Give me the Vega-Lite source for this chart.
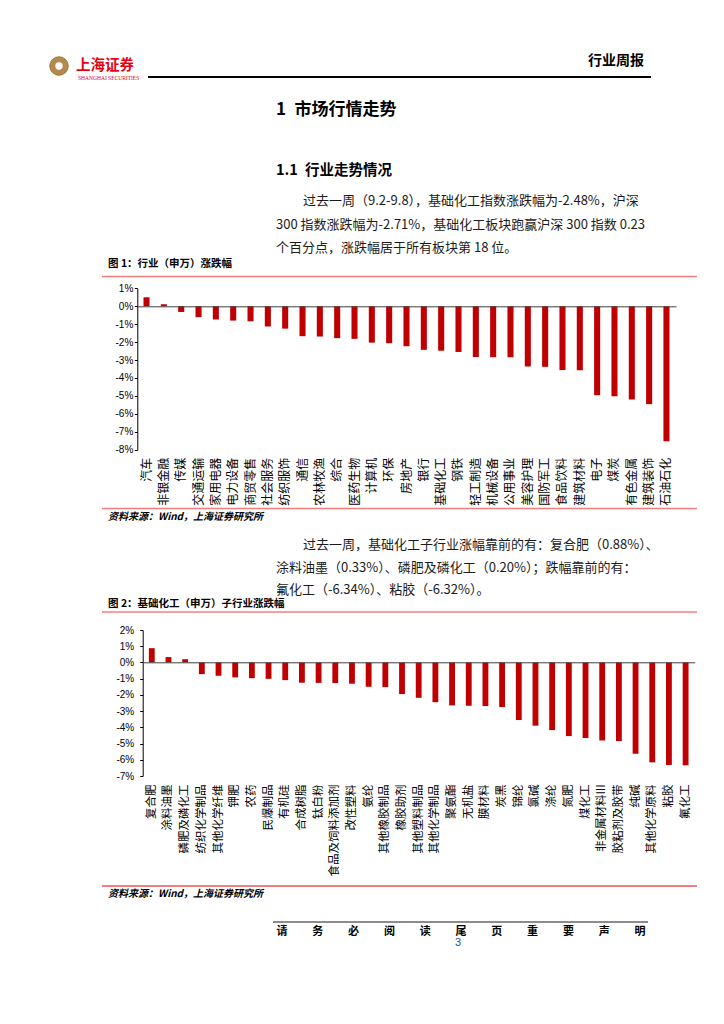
{
  "$schema": "https://vega.github.io/schema/vega-lite/v6.json",
  "width": 724,
  "height": 1024,
  "autosize": {"type": "none"},
  "padding": 0,
  "background": "white",
  "config": {"view": {"stroke": null}, "font": "Noto Sans CJK SC"},
  "data": {"values": [{}]},
  "layer": [
    {"mark": {"type": "point", "shape": "circle", "filled": true, "color": "#b38a4c", "size": 340, "opacity": 1, "stroke": "#9a7338", "strokeWidth": 1}, "encoding": {"x": {"value": 59}, "y": {"value": 66}}},
    {"mark": {"type": "point", "shape": "circle", "filled": true, "color": "#ffffff", "size": 55, "opacity": 1}, "encoding": {"x": {"value": 59}, "y": {"value": 66}}},
    {"mark": {"type": "text", "text": "上海证券", "font": "Noto Sans CJK SC", "fontWeight": "bold", "fontSize": 14.5, "color": "#e60012", "align": "left", "baseline": "middle"}, "encoding": {"x": {"value": 76}, "y": {"value": 66}}},
    {"mark": {"type": "text", "text": "SHANGHAI SECURITIES", "font": "Liberation Sans Narrow", "fontSize": 5.5, "color": "#e60012", "align": "left", "baseline": "middle"}, "encoding": {"x": {"value": 78}, "y": {"value": 77.5}}},
    {"mark": {"type": "rule", "color": "#000000", "strokeWidth": 2}, "encoding": {"x": {"value": 148}, "x2": {"value": 651}, "y": {"value": 77}}},
    {"mark": {"type": "text", "text": "行业周报", "font": "Noto Sans CJK SC", "fontWeight": "bold", "fontSize": 14, "color": "#000000", "align": "center", "baseline": "middle"}, "encoding": {"x": {"value": 616}, "y": {"value": 61}}},
    {"mark": {"type": "text", "text": "1\u2002市场行情走势", "font": "Noto Sans CJK SC", "fontWeight": "bold", "fontSize": 17, "color": "#000000", "align": "left", "baseline": "middle"}, "encoding": {"x": {"value": 276}, "y": {"value": 110}}},
    {"mark": {"type": "text", "text": "1.1\u2002行业走势情况", "font": "Noto Sans CJK SC", "fontWeight": "bold", "fontSize": 14.5, "color": "#000000", "align": "left", "baseline": "middle"}, "encoding": {"x": {"value": 276}, "y": {"value": 171}}},
    {"mark": {"type": "text", "text": "过去一周（9.2-9.8），基础化工指数涨跌幅为-2.48%，沪深", "font": "Noto Sans CJK SC", "fontSize": 13, "color": "#1a1a1a", "align": "left", "baseline": "middle"}, "encoding": {"x": {"value": 303}, "y": {"value": 201}}},
    {"mark": {"type": "text", "text": "300 指数涨跌幅为-2.71%，基础化工板块跑赢沪深 300 指数 0.23", "font": "Noto Sans CJK SC", "fontSize": 13, "color": "#1a1a1a", "align": "left", "baseline": "middle"}, "encoding": {"x": {"value": 276}, "y": {"value": 225}}},
    {"mark": {"type": "text", "text": "个百分点，涨跌幅居于所有板块第 18 位。", "font": "Noto Sans CJK SC", "fontSize": 13, "color": "#1a1a1a", "align": "left", "baseline": "middle"}, "encoding": {"x": {"value": 276}, "y": {"value": 248}}},
    {"mark": {"type": "text", "text": "图 1：行业（申万）涨跌幅", "font": "Noto Sans CJK SC", "fontWeight": "bold", "fontSize": 10.5, "color": "#000000", "align": "left", "baseline": "middle"}, "encoding": {"x": {"value": 108}, "y": {"value": 264}}},
    {"mark": {"type": "rule", "color": "#f08080", "strokeWidth": 1.5}, "encoding": {"x": {"value": 102}, "x2": {"value": 697}, "y": {"value": 276.5}}},
    {"mark": {"type": "rule", "color": "#f08080", "strokeWidth": 1.5}, "encoding": {"x": {"value": 102}, "x2": {"value": 697}, "y": {"value": 508.5}}},
    {"mark": {"type": "text", "text": "资料来源：Wind，上海证券研究所", "font": "Noto Sans CJK SC", "fontWeight": "bold", "fontStyle": "italic", "fontSize": 10, "color": "#000000", "align": "left", "baseline": "middle"}, "encoding": {"x": {"value": 108}, "y": {"value": 517}}},
    {"mark": {"type": "text", "text": "过去一周，基础化工子行业涨幅靠前的有：复合肥（0.88%）、", "font": "Noto Sans CJK SC", "fontSize": 13, "color": "#1a1a1a", "align": "left", "baseline": "middle"}, "encoding": {"x": {"value": 303}, "y": {"value": 545}}},
    {"mark": {"type": "text", "text": "涂料油墨（0.33%）、磷肥及磷化工（0.20%）；跌幅靠前的有：", "font": "Noto Sans CJK SC", "fontSize": 13, "color": "#1a1a1a", "align": "left", "baseline": "middle"}, "encoding": {"x": {"value": 276}, "y": {"value": 568}}},
    {"mark": {"type": "text", "text": "氟化工（-6.34%）、粘胶（-6.32%）。", "font": "Noto Sans CJK SC", "fontSize": 13, "color": "#1a1a1a", "align": "left", "baseline": "middle"}, "encoding": {"x": {"value": 276}, "y": {"value": 590}}},
    {"mark": {"type": "text", "text": "图 2：基础化工（申万）子行业涨跌幅", "font": "Noto Sans CJK SC", "fontWeight": "bold", "fontSize": 10.5, "color": "#000000", "align": "left", "baseline": "middle"}, "encoding": {"x": {"value": 108}, "y": {"value": 604}}},
    {"mark": {"type": "rule", "color": "#f08080", "strokeWidth": 1.5}, "encoding": {"x": {"value": 102}, "x2": {"value": 697}, "y": {"value": 612}}},
    {"mark": {"type": "rule", "color": "#f08080", "strokeWidth": 2}, "encoding": {"x": {"value": 102}, "x2": {"value": 697}, "y": {"value": 886}}},
    {"mark": {"type": "text", "text": "资料来源：Wind，上海证券研究所", "font": "Noto Sans CJK SC", "fontWeight": "bold", "fontStyle": "italic", "fontSize": 10, "color": "#000000", "align": "left", "baseline": "middle"}, "encoding": {"x": {"value": 108}, "y": {"value": 894}}},
    {"mark": {"type": "rule", "color": "#8c8c8c", "strokeWidth": 2}, "encoding": {"x": {"value": 273}, "x2": {"value": 648}, "y": {"value": 922}}},
    {
      "data": {"values": [{"c": "请"}, {"c": "务"}, {"c": "必"}, {"c": "阅"}, {"c": "读"}, {"c": "尾"}, {"c": "页"}, {"c": "重"}, {"c": "要"}, {"c": "声"}, {"c": "明"}]},
      "mark": {"type": "text", "font": "Noto Sans CJK SC", "fontWeight": "bold", "fontSize": 11, "color": "#000000", "baseline": "middle"},
      "encoding": {
        "x": {"field": "c", "type": "nominal", "sort": null, "scale": {"type": "point", "range": [282, 640], "padding": 0}, "axis": null},
        "y": {"value": 932},
        "text": {"field": "c"}
      }
    },
    {"mark": {"type": "text", "text": "3", "font": "Liberation Sans", "fontSize": 11, "color": "#1f4e8c", "align": "center", "baseline": "middle"}, "encoding": {"x": {"value": 458}, "y": {"value": 943}}},
    {
      "data": {"values": [
        {"name": "汽车", "v": 0.50},
        {"name": "非银金融", "v": 0.11},
        {"name": "传媒", "v": -0.32},
        {"name": "交通运输", "v": -0.61},
        {"name": "家用电器", "v": -0.74},
        {"name": "电力设备", "v": -0.80},
        {"name": "商贸零售", "v": -0.84},
        {"name": "社会服务", "v": -1.13},
        {"name": "纺织服饰", "v": -1.25},
        {"name": "通信", "v": -1.67},
        {"name": "农林牧渔", "v": -1.69},
        {"name": "综合", "v": -1.78},
        {"name": "医药生物", "v": -1.82},
        {"name": "计算机", "v": -2.03},
        {"name": "环保", "v": -2.06},
        {"name": "房地产", "v": -2.23},
        {"name": "银行", "v": -2.43},
        {"name": "基础化工", "v": -2.48},
        {"name": "钢铁", "v": -2.55},
        {"name": "轻工制造", "v": -2.83},
        {"name": "机械设备", "v": -2.84},
        {"name": "公用事业", "v": -2.85},
        {"name": "美容护理", "v": -3.36},
        {"name": "国防军工", "v": -3.38},
        {"name": "食品饮料", "v": -3.56},
        {"name": "建筑材料", "v": -3.57},
        {"name": "电子", "v": -4.96},
        {"name": "煤炭", "v": -5.02},
        {"name": "有色金属", "v": -5.20},
        {"name": "建筑装饰", "v": -5.46},
        {"name": "石油石化", "v": -7.53}
      ]},
      "mark": {"type": "bar", "color": "#c00000"},
      "encoding": {
        "x": {
          "field": "name", "type": "nominal", "sort": null,
          "scale": {"type": "band", "range": [137, 676], "paddingInner": 0.65, "paddingOuter": 0.375},
          "axis": {"orient": "bottom", "offset": -717.7, "title": null, "domainColor": "#404040", "domainWidth": 1, "ticks": false, "tickSize": 0, "labelAngle": -90, "labelAlign": "right", "labelBaseline": "middle", "labelPadding": 151, "labelFont": "Noto Sans CJK SC", "labelFontSize": 12, "labelColor": "#000000", "labelOverlap": false, "labelLimit": 0, "zindex": 1}
        },
        "y": {
          "field": "v", "type": "quantitative",
          "scale": {"domain": [-8, 1], "range": [449.7, 288.3], "nice": false, "zero": false},
          "axis": {"orient": "left", "offset": -137.3, "title": null, "grid": false, "values": [-8, -7, -6, -5, -4, -3, -2, -1, 0, 1], "labelExpr": "datum.value + '%'", "domainColor": "#000000", "tickColor": "#000000", "tickSize": 3, "labelPadding": 1.5, "labelFont": "Liberation Sans", "labelFontSize": 10, "labelColor": "#000000", "labelOverlap": false, "labelFlush": false}
        }
      }
    },
    {
      "data": {"values": [
        {"name": "复合肥", "v": 0.88},
        {"name": "涂料油墨", "v": 0.33},
        {"name": "磷肥及磷化工", "v": 0.20},
        {"name": "纺织化学制品", "v": -0.72},
        {"name": "其他化学纤维", "v": -0.82},
        {"name": "钾肥", "v": -0.92},
        {"name": "农药", "v": -0.97},
        {"name": "民爆制品", "v": -1.01},
        {"name": "有机硅", "v": -1.09},
        {"name": "合成树脂", "v": -1.25},
        {"name": "钛白粉", "v": -1.26},
        {"name": "食品及饲料添加剂", "v": -1.27},
        {"name": "改性塑料", "v": -1.31},
        {"name": "氨纶", "v": -1.50},
        {"name": "其他橡胶制品", "v": -1.52},
        {"name": "橡胶助剂", "v": -1.95},
        {"name": "其他塑料制品", "v": -2.18},
        {"name": "其他化学制品", "v": -2.45},
        {"name": "聚氨酯", "v": -2.65},
        {"name": "无机盐", "v": -2.67},
        {"name": "膜材料", "v": -2.69},
        {"name": "炭黑", "v": -2.75},
        {"name": "锦纶", "v": -3.55},
        {"name": "氯碱", "v": -3.90},
        {"name": "涤纶", "v": -4.17},
        {"name": "氮肥", "v": -4.54},
        {"name": "煤化工", "v": -4.66},
        {"name": "非金属材料III", "v": -4.81},
        {"name": "胶粘剂及胶带", "v": -4.85},
        {"name": "纯碱", "v": -5.63},
        {"name": "其他化学原料", "v": -6.16},
        {"name": "粘胶", "v": -6.32},
        {"name": "氟化工", "v": -6.34}
      ]},
      "mark": {"type": "bar", "color": "#c00000"},
      "encoding": {
        "x": {
          "field": "name", "type": "nominal", "sort": null,
          "scale": {"type": "band", "range": [142.7, 694.7], "paddingInner": 0.65, "paddingOuter": 0.37},
          "axis": {"orient": "bottom", "offset": -361.7, "title": null, "domainColor": "#404040", "domainWidth": 1, "ticks": false, "tickSize": 0, "labelAngle": -90, "labelAlign": "right", "labelBaseline": "middle", "labelPadding": 121.7, "labelFont": "Noto Sans CJK SC", "labelFontSize": 11.5, "labelColor": "#000000", "labelOverlap": false, "labelLimit": 0, "zindex": 1}
        },
        "y": {
          "field": "v", "type": "quantitative",
          "scale": {"domain": [-7, 2], "range": [776, 630], "nice": false, "zero": false},
          "axis": {"orient": "left", "offset": -142.7, "title": null, "grid": false, "values": [-7, -6, -5, -4, -3, -2, -1, 0, 1, 2], "labelExpr": "datum.value + '%'", "domainColor": "#000000", "tickColor": "#000000", "tickSize": 3, "labelPadding": 6, "labelFont": "Liberation Sans", "labelFontSize": 10, "labelColor": "#000000", "labelOverlap": false, "labelFlush": false}
        }
      }
    }
  ],
  "resolve": {"scale": {"x": "independent", "y": "independent"}, "axis": {"x": "independent", "y": "independent"}}
}
